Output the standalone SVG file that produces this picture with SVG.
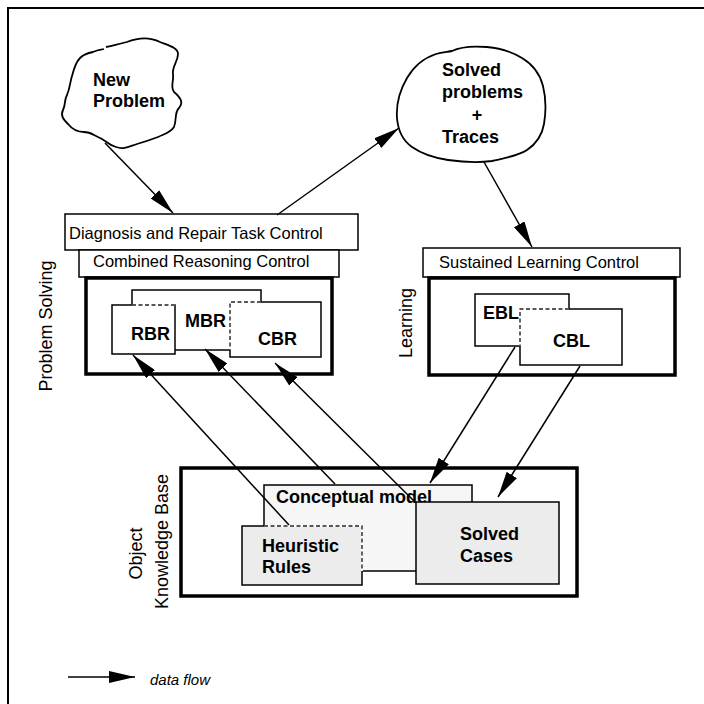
<svg xmlns="http://www.w3.org/2000/svg" width="704" height="704" viewBox="0 0 704 704">
<style>
text{font-family:"Liberation Sans",Arial,sans-serif;fill:#000}
.b{font-weight:bold;font-size:18px}
.r{font-size:16.5px}
.v{font-size:18px}
.box{fill:#fff;stroke:#000;stroke-width:1.5}
.thick{fill:#fff;stroke:#000;stroke-width:3.5}
.g1{fill:#f6f6f6;stroke:#000;stroke-width:1.5}
.g2{fill:#ececec;stroke:#000;stroke-width:1.5}
.cloud{fill:#fff;stroke:#000;stroke-width:1.8}
.dash{stroke:#222;stroke-width:1.4;stroke-dasharray:4 2.5;fill:none}
.conn line{stroke:#000;stroke-width:1.5;marker-end:url(#ah)}
</style>
<defs>
<marker id="ah" markerUnits="userSpaceOnUse" viewBox="0 0 26 12" refX="26" refY="6" markerWidth="26" markerHeight="12" orient="auto">
<path d="M0,0 L26,6 L0,12 z" fill="#000"/>
</marker>
</defs>
<rect width="704" height="704" fill="#fff"/>
<path d="M8,704 L8,8 L704,8" fill="none" stroke="#000" stroke-width="2"/>

<g id="new-problem">
<path class="cloud" d="M93,52 C99,49 101,50 104,49 M106,47 C115,45 120,44 127,42 C137,38 148,36 160,42 C170,46 178,48 178,54 C178,62 172,66 173,74 C174,82 170,86 174,92 C180,97 184,102 179,108 C174,113 177,120 174,127 C170,133 164,134 158,137 C150,140 144,142 137,144 C130,146 124,150 116,147 C108,145 106,140 98,137 C92,134 90,132 84,132 C76,132 72,129 68,124 C64,120 60,116 63,110 C66,104 64,100 67,95 C70,88 70,82 72,76 C74,68 76,62 80,58 C84,54 88,53 93,52"/>
<text class="b" x="93" y="86">New</text>
<text class="b" x="93" y="107">Problem</text>
</g>

<g id="solved-problems">
<path class="cloud" d="M452,51 C462,46 475,46 487,47 C500,48 512,52 522,58 C532,64 540,74 543,86 C546,98 546,112 544,124 C542,136 536,144 527,150 C518,156 505,158 492,161 C478,163 462,162 448,160 C435,158 422,154 412,147 C402,140 398,130 397,118 C396,104 400,90 407,78 C414,66 424,58 436,54 C442,52 447,52 452,51 Z"/>
<text class="b" x="442" y="76">Solved</text>
<text class="b" x="442" y="98">problems</text>
<text class="b" x="477" y="121" text-anchor="middle">+</text>
<text class="b" x="442" y="143">Traces</text>
</g>

<g id="problem-solving">
<text class="v" transform="translate(52,326) rotate(-90)" text-anchor="middle">Problem Solving</text>
<rect class="box" x="65" y="214" width="293" height="36"/>
<text class="r" x="69" y="239">Diagnosis and Repair Task Control</text>
<rect class="box" x="79" y="250" width="260" height="27"/>
<text class="r" x="93" y="267">Combined Reasoning Control</text>
<rect class="thick" x="86" y="278" width="246" height="96"/>
<g id="mbr">
<rect class="box" x="132" y="290" width="129" height="60"/>
<text class="b" x="185" y="327">MBR</text>
</g>
<g id="rbr">
<rect class="box" x="112" y="305" width="63" height="49"/>
<line x1="132" y1="305" x2="175" y2="305" stroke="#fff" stroke-width="2"/>
<line class="dash" x1="132" y1="305" x2="175" y2="305"/>
<text class="b" x="131" y="340">RBR</text>
</g>
<g id="cbr">
<rect class="box" x="230" y="302" width="91" height="55"/>
<path d="M261,302 L230,302 L230,350" fill="none" stroke="#fff" stroke-width="2"/>
<path class="dash" d="M261,302 L230,302 L230,350"/>
<text class="b" x="258" y="345">CBR</text>
</g>
</g>

<g id="learning">
<text class="v" transform="translate(412,323) rotate(-90)" text-anchor="middle">Learning</text>
<rect class="box" x="423" y="248" width="257" height="29"/>
<text class="r" x="439" y="268">Sustained Learning Control</text>
<rect class="thick" x="429" y="278" width="246" height="97"/>
<g id="ebl">
<rect class="box" x="475" y="294" width="94" height="52"/>
<text class="b" x="483" y="319">EBL</text>
</g>
<g id="cbl">
<rect class="box" x="520" y="309" width="102" height="56"/>
<path d="M569,309 L520,309 L520,346" fill="none" stroke="#fff" stroke-width="2"/>
<path class="dash" d="M569,309 L520,309 L520,346"/>
<text class="b" x="553" y="347">CBL</text>
</g>
</g>

<g id="object-knowledge-base">
<text class="v" transform="translate(142,553.5) rotate(-90)" text-anchor="middle">Object</text>
<text class="v" transform="translate(168,541.5) rotate(-90)" text-anchor="middle">Knowledge Base</text>
<rect class="thick" x="181" y="468" width="396" height="128"/>
<g id="conceptual-model">
<rect class="g1" x="264" y="485" width="208" height="86"/>
<text class="b" x="276" y="503">Conceptual model</text>
</g>
<g id="heuristic-rules">
<rect class="g2" x="242" y="526" width="120" height="59"/>
<path d="M264,526 L362,526 L362,571" fill="none" stroke="#fff" stroke-width="2"/>
<path class="dash" d="M264,526 L362,526 L362,571"/>
<text class="b" x="262" y="552">Heuristic</text>
<text class="b" x="262" y="573">Rules</text>
</g>
<g id="solved-cases">
<rect class="g2" x="416" y="502" width="143" height="82"/>
<text class="b" x="460" y="540">Solved</text>
<text class="b" x="460" y="562">Cases</text>
</g>
</g>

<g id="connectors" class="conn">
<line x1="105" y1="143" x2="173" y2="213"/>
<line x1="277" y1="215" x2="399" y2="128"/>
<line x1="484" y1="162" x2="532" y2="247"/>
<line x1="289" y1="525" x2="133" y2="355"/>
<line x1="335" y1="484" x2="205" y2="349"/>
<line x1="414" y1="501" x2="275" y2="363"/>
<line x1="515" y1="347" x2="430" y2="483"/>
<line x1="580" y1="366" x2="498" y2="497"/>
<line x1="68" y1="677" x2="135" y2="677"/>
</g>
<text x="150" y="685" font-size="15" font-style="italic">data flow</text>
</svg>
